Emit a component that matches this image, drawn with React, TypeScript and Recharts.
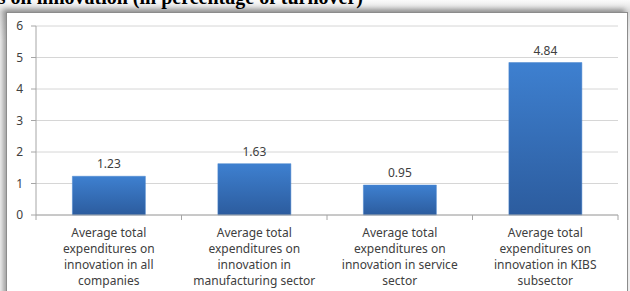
import React from 'react';
import { BarChart, Bar, XAxis, YAxis, CartesianGrid, LabelList } from 'recharts';

const titleText = 'Expenditures on innovation (in percentage of turnover)';
const categoryLines: string[][] = [
  ['Average total', 'expenditures on', 'innovation in all', 'companies'],
  ['Average total', 'expenditures on', 'innovation in', 'manufacturing sector'],
  ['Average total', 'expenditures on', 'innovation in service', 'sector'],
  ['Average total', 'expenditures on', 'innovation in KIBS', 'subsector'],
];
const values = [1.23, 1.63, 0.95, 4.84];
const yTicks = [0, 1, 2, 3, 4, 5, 6];

const data = values.map((v, i) => ({ name: String(i), value: v }));

const FONT = '"Noto Sans", "Open Sans", sans-serif';
const AXIS = '#a6a6a6';

const CategoryTick = (props: any) => {
  const { x, y, payload, index } = props;
  const lines = categoryLines[Number(payload.value)] || [];
  const off = payload && typeof payload.offset === 'number' ? payload.offset : 0;
  const axisY = y - 8;
  return (
    <g>
      {off > 0 && (
        <line x1={x - off} x2={x - off} y1={axisY} y2={axisY + 5} stroke={AXIS} />
      )}
      {off > 0 && index === categoryLines.length - 1 && (
        <line x1={x + off} x2={x + off} y1={axisY} y2={axisY + 5} stroke={AXIS} />
      )}
      <text x={x} y={y} textAnchor="middle" fontFamily={FONT} fontSize={12} fill="#404040">
        {lines.map((l, i) => (
          <tspan key={i} x={x} y={y + 14 + i * 16}>
            {l}
          </tspan>
        ))}
      </text>
    </g>
  );
};

export default function App() {
  return (
    <div
      style={{
        position: 'absolute',
        left: 0,
        top: 0,
        width: 630,
        height: 291,
        overflow: 'hidden',
        background: 'linear-gradient(to bottom, #fbfbfb 0px, #dcdcdc 12px, #f2f2f2 40px)',
      }}
    >
      <div
        style={{
          position: 'absolute',
          right: 267,
          top: -13,
          whiteSpace: 'nowrap',
          fontFamily: '"Liberation Serif", serif',
          fontWeight: 'bold',
          fontSize: 20,
          lineHeight: '20px',
          color: '#000',
        }}
      >
        {titleText}
      </div>
      <div
        style={{
          position: 'absolute',
          left: 6,
          top: 12,
          width: 620,
          height: 300,
          background: '#fff',
          border: '1px solid #8c8c8c',
          boxShadow: '-3px -3px 5px rgba(0,0,0,0.35)',
        }}
      />
      <div style={{ position: 'absolute', left: 0, top: 0 }}>
        <BarChart
          width={630}
          height={291}
          data={data}
          margin={{ top: 26, right: 12, left: 0, bottom: 0 }}
          barCategoryGap="25%"
        >
          <defs>
            <linearGradient id="barGrad" x1="0" y1="0" x2="0" y2="1">
              <stop offset="0%" stopColor="#3e80d0" />
              <stop offset="100%" stopColor="#2c5c9e" />
            </linearGradient>
          </defs>
          <CartesianGrid horizontal vertical={false} stroke="#d6d6d6" />
          <YAxis
            width={36}
            domain={[0, 6]}
            ticks={yTicks}
            tickSize={5}
            tickMargin={8}
            tickLine={{ stroke: AXIS }}
            axisLine={{ stroke: AXIS }}
            tick={{ fontFamily: FONT, fontSize: 12, fill: '#404040' }}
          />
          <XAxis
            dataKey="name"
            height={76}
            interval={0}
            tickLine={false}
            tickSize={6}
            tickMargin={2}
            axisLine={{ stroke: AXIS }}
            tick={<CategoryTick />}
          />
          <Bar dataKey="value" fill="url(#barGrad)" stroke="#4a86cf" strokeWidth={0.5} isAnimationActive={false}>
            <LabelList
              dataKey="value"
              position="top"
              offset={8}
              formatter={(v: any) => Number(v).toFixed(2)}
              style={{ fontFamily: FONT, fontSize: 12, fill: '#404040' }}
            />
          </Bar>
        </BarChart>
      </div>
    </div>
  );
}
